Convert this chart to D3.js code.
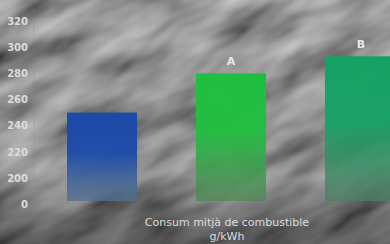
<!DOCTYPE html>
<html>
<head>
<meta charset="utf-8">
<script src="https://cdn.jsdelivr.net/npm/d3@7"></script>
<style>
  html, body { margin: 0; padding: 0; background: #5e5e5e; overflow: hidden; }
</style>
</head>
<body>
<div id="chart"></div>
<script>
// Chart data
const categories = ['', 'A', 'B'];
const values = [250, 280, 293];
const tickValues = [0, 200, 220, 240, 260, 280, 300, 320];
const titleLines = ['Consum mitjà de combustible', 'g/kWh'];

const W = 390, H = 244;

const svg = d3.select('#chart').append('svg')
  .attr('width', W).attr('height', H)
  .style('display', 'block');

const defs = svg.append('defs');

// Grey, streaky background texture (noise mapped straight to grey)
const tex = defs.append('filter').attr('id', 'tex')
  .attr('x', 0).attr('y', 0).attr('width', '100%').attr('height', '100%');
tex.append('feTurbulence')
  .attr('type', 'fractalNoise')
  .attr('baseFrequency', '0.012 0.035')
  .attr('numOctaves', 3).attr('seed', 7);
tex.append('feColorMatrix')
  .attr('type', 'matrix')
  .attr('values', '0.8 0 0 0 -0.08  0.8 0 0 0 -0.08  0.8 0 0 0 -0.08  0 0 0 0 1');

svg.append('rect').attr('width', W).attr('height', H).attr('fill', '#555');
svg.append('g').attr('transform', `rotate(-28 ${W / 2} ${H / 2})`)
  .append('rect')
  .attr('x', -120).attr('y', -160).attr('width', W + 240).attr('height', H + 320)
  .attr('filter', 'url(#tex)');

// Darker bottom band
const shade = defs.append('linearGradient').attr('id', 'shade')
  .attr('x1', 0).attr('y1', 0).attr('x2', 0).attr('y2', 1);
shade.append('stop').attr('offset', '0%').attr('stop-color', '#000').attr('stop-opacity', 0);
shade.append('stop').attr('offset', '70%').attr('stop-color', '#000').attr('stop-opacity', 0.08);
shade.append('stop').attr('offset', '100%').attr('stop-color', '#000').attr('stop-opacity', 0.4);
svg.append('rect').attr('width', W).attr('height', H).attr('fill', 'url(#shade)');

// Bar gradients
const barColors = [
  { top: '#1b4aa8', bot: '#54708e' },
  { top: '#1fbf3f', bot: '#4f8556' },
  { top: '#16a265', bot: '#4f7d63' },
];
barColors.forEach((c, i) => {
  const g = defs.append('linearGradient').attr('id', 'bar' + i)
    .attr('x1', 0).attr('y1', 0).attr('x2', 0).attr('y2', 1);
  g.append('stop').attr('offset', '0%').attr('stop-color', c.top);
  g.append('stop').attr('offset', '45%').attr('stop-color', c.top).attr('stop-opacity', 0.95);
  g.append('stop').attr('offset', '100%').attr('stop-color', c.bot).attr('stop-opacity', 0.75);
});

// Scales: broken axis, 0 then 200..320
const y = d3.scaleLinear().domain([0, 200, 320]).range([204, 178, 21]);
const x = d3.scaleBand().domain(categories).range([67, 395])
  .paddingInner(0.457).paddingOuter(0);

// Axis
const axis = svg.append('g').attr('transform', 'translate(28,0)')
  .call(d3.axisLeft(y).tickValues(tickValues).tickSize(0).tickPadding(0));
axis.select('.domain').remove();
axis.selectAll('text')
  .attr('fill', '#dcdcdc')
  .attr('font-family', 'DejaVu Sans, sans-serif')
  .attr('font-size', 10)
  .attr('font-weight', 'bold');

svg.append('line')
  .attr('x1', 34).attr('x2', 34).attr('y1', 8).attr('y2', 215)
  .attr('stroke', '#888').attr('stroke-opacity', 0.3);

// Bars
svg.selectAll('rect.bar').data(values).join('rect')
  .attr('class', 'bar')
  .attr('x', (d, i) => x(categories[i]))
  .attr('y', d => y(d))
  .attr('width', x.bandwidth())
  .attr('height', d => y(0) - 3 - y(d))
  .attr('fill', (d, i) => `url(#bar${i})`);

// Bar labels
svg.selectAll('text.lab').data(values).join('text')
  .attr('class', 'lab')
  .attr('x', (d, i) => x(categories[i]) + x.bandwidth() / 2 + (i === 2 ? 1 : 0))
  .attr('y', d => y(d) - 8)
  .attr('text-anchor', 'middle')
  .attr('font-family', 'DejaVu Sans, sans-serif')
  .attr('font-size', 11)
  .attr('font-weight', 'bold')
  .attr('fill', '#e8e8e8')
  .text((d, i) => categories[i]);

// Title below
svg.selectAll('text.title').data(titleLines).join('text')
  .attr('class', 'title')
  .attr('x', 227)
  .attr('y', (d, i) => 226 + i * 14)
  .attr('text-anchor', 'middle')
  .attr('font-family', 'DejaVu Sans, sans-serif')
  .attr('font-size', 11)
  .attr('fill', '#dcdcdc')
  .text(d => d);
</script>
</body>
</html>
